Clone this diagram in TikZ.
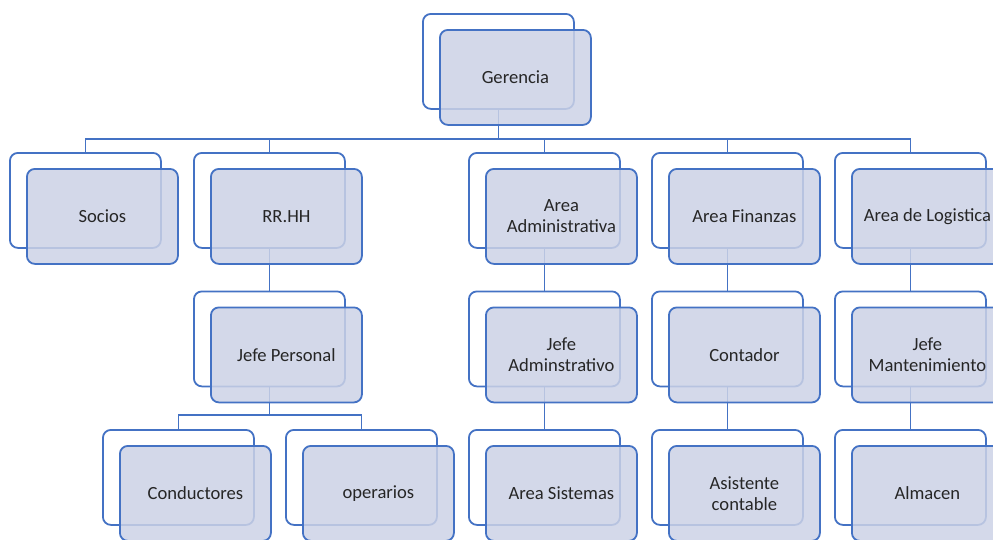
\documentclass[tikz,border=0pt]{standalone}
\usepackage{fontspec}
\setmainfont{Carlito}
\begin{document}
\definecolor{orgblue}{RGB}{68,114,196}
\definecolor{orgfill}{RGB}{204,210,230}
\definecolor{orgtext}{RGB}{38,38,38}
\begin{tikzpicture}[x=1pt,y=-1pt,
  backbox/.style={draw=orgblue,line width=1.8pt,fill=white,rounded corners=8pt,
    minimum width=151pt,minimum height=95pt,inner sep=0pt,anchor=north west},
  frontbox/.style={draw=orgblue,line width=1.8pt,fill=orgfill,fill opacity=0.85,
    text opacity=1,rounded corners=8pt,minimum width=151pt,minimum height=95pt,
    inner sep=2pt,align=center,text=orgtext,font=\fontsize{18.6}{21}\selectfont},
  link/.style={draw=orgblue,line width=1.8pt}]
\useasboundingbox (0,0) rectangle (993,539);
\clip (0,0) rectangle (993,539);

% back frames
\node[backbox] (gerB) at (422,13) {};
\node[backbox] (socB) at (9,152) {};
\node[backbox] (rrhB) at (193,152) {};
\node[backbox] (admB) at (468,152) {};
\node[backbox] (finB) at (651,152) {};
\node[backbox] (logB) at (834,152) {};
\node[backbox] (jpeB) at (193,290.5) {};
\node[backbox] (jadB) at (468,290.5) {};
\node[backbox] (conB) at (651,290.5) {};
\node[backbox] (jmaB) at (834,290.5) {};
\node[backbox] (cndB) at (102,429) {};
\node[backbox] (opeB) at (285,429) {};
\node[backbox] (sisB) at (468,429) {};
\node[backbox] (asiB) at (651,429) {};
\node[backbox] (almB) at (834,429) {};

% connectors
\foreach \c in {socB,rrhB,admB,finB,logB}
  \draw[link] (gerB.south) -- ++(0,29) -| (\c.north);
\draw[link] (rrhB.south) -- (jpeB.north);
\draw[link] (admB.south) -- (jadB.north);
\draw[link] (finB.south) -- (conB.north);
\draw[link] (logB.south) -- (jmaB.north);
\foreach \c in {cndB,opeB}
  \draw[link] (jpeB.south) -- ++(0,28) -| (\c.north);
\draw[link] (jadB.south) -- (sisB.north);
\draw[link] (conB.south) -- (asiB.north);
\draw[link] (jmaB.south) -- (almB.north);

% front boxes with labels
\node[frontbox] (ger) at ([shift={(17,16)}]gerB.center) {Gerencia};
\node[frontbox] (soc) at ([shift={(17,16)}]socB.center) {Socios};
\node[frontbox] (rrh) at ([shift={(17,16)}]rrhB.center) {RR.HH};
\node[frontbox] (adm) at ([shift={(17,16)}]admB.center) {Area\\Administrativa};
\node[frontbox] (fin) at ([shift={(17,16)}]finB.center) {Area Finanzas};
\node[frontbox] (log) at ([shift={(17,16)}]logB.center) {Area de Logistica};
\node[frontbox] (jpe) at ([shift={(17,16)}]jpeB.center) {Jefe Personal};
\node[frontbox] (jad) at ([shift={(17,16)}]jadB.center) {Jefe\\Adminstrativo};
\node[frontbox] (con) at ([shift={(17,16)}]conB.center) {Contador};
\node[frontbox] (jma) at ([shift={(17,16)}]jmaB.center) {Jefe\\Mantenimiento};
\node[frontbox] (cnd) at ([shift={(17,16)}]cndB.center) {Conductores};
\node[frontbox] (ope) at ([shift={(17,16)}]opeB.center) {operarios};
\node[frontbox] (sis) at ([shift={(17,16)}]sisB.center) {Area Sistemas};
\node[frontbox] (asi) at ([shift={(17,16)}]asiB.center) {Asistente\\contable};
\node[frontbox] (alm) at ([shift={(17,16)}]almB.center) {Almacen};
\end{tikzpicture}
\end{document}
